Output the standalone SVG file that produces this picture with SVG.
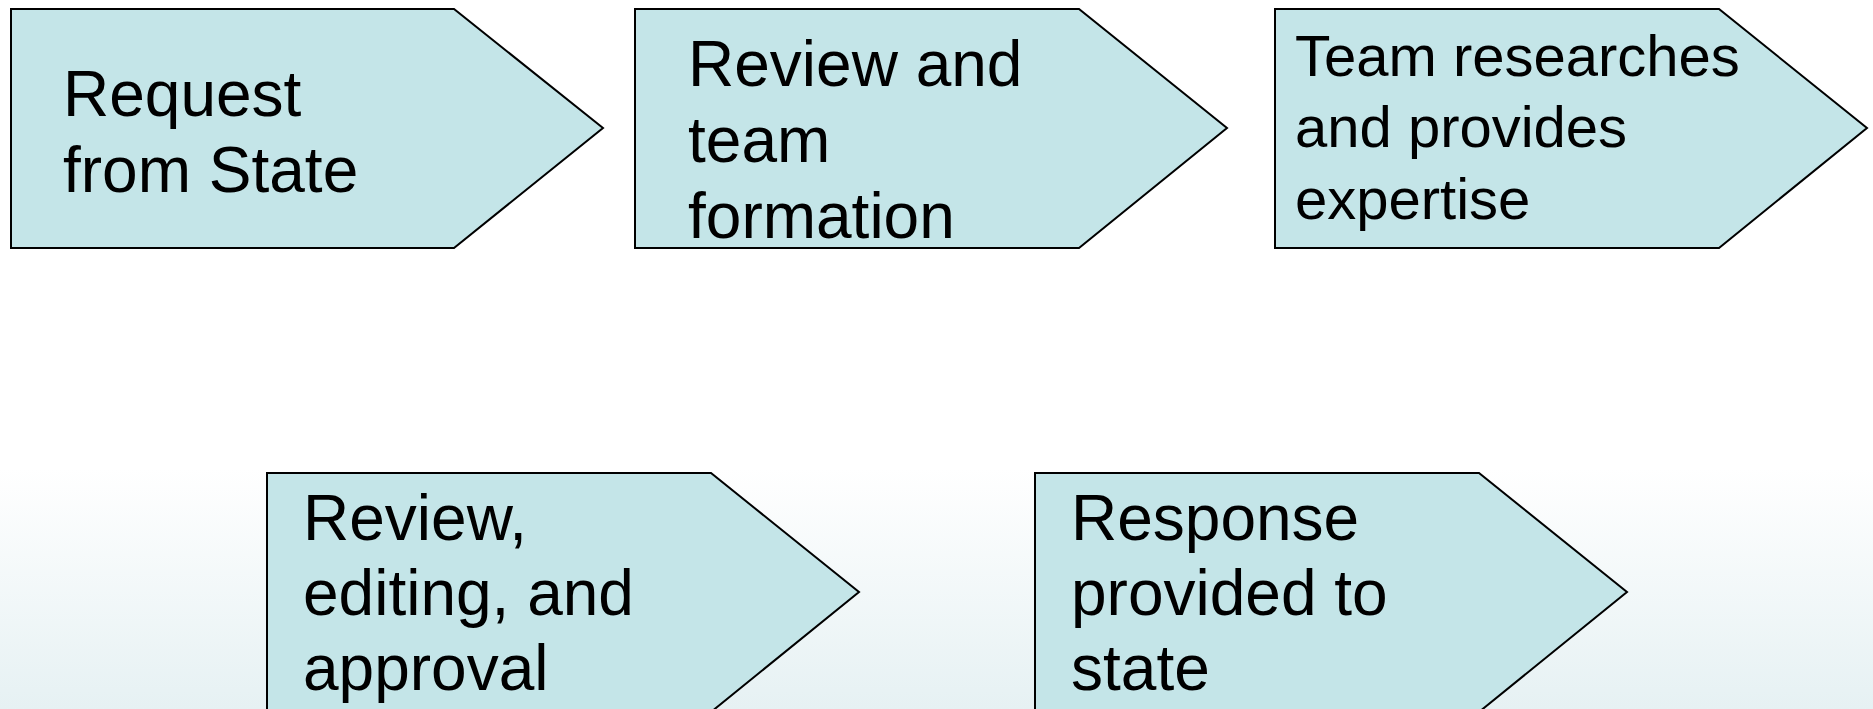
<svg xmlns="http://www.w3.org/2000/svg" width="1873" height="709" viewBox="0 0 1873 709">
<defs>
<linearGradient id="bg" x1="0" y1="0" x2="0" y2="1">
<stop offset="0" stop-color="#ffffff"/>
<stop offset="0.66" stop-color="#ffffff"/>
<stop offset="1" stop-color="#e6f1f3"/>
</linearGradient>
<style>
.sh{fill:#c4e5e8;stroke:#000;stroke-width:2}
.t{font-family:"Liberation Sans",Arial,sans-serif;font-size:64px;fill:#000}
.t2{font-family:"Liberation Sans",Arial,sans-serif;font-size:58px;fill:#000}
</style>
</defs>
<rect x="0" y="0" width="1873" height="709" fill="url(#bg)"/>
<g id="connectors"></g>
<g id="n1">
<polygon class="sh" points="11,9 454,9 603,128 454,248 11,248"/>
<text class="t" x="63" y="116">Request</text>
<text class="t" x="63" y="192">from State</text>
</g>
<g id="n2">
<polygon class="sh" points="635,9 1079,9 1227,128 1079,248 635,248"/>
<text class="t" x="688" y="86">Review and</text>
<text class="t" x="688" y="162">team</text>
<text class="t" x="688" y="238">formation</text>
</g>
<g id="n3">
<polygon class="sh" points="1275,9 1719,9 1867,128 1719,248 1275,248"/>
<text class="t2" x="1295" y="76">Team researches</text>
<text class="t2" x="1295" y="147">and provides</text>
<text class="t2" x="1295" y="219">expertise</text>
</g>
<g id="n4">
<polygon class="sh" points="267,473 711,473 859,592 711,712 267,712"/>
<text class="t" x="303" y="540">Review,</text>
<text class="t" x="303" y="615">editing, and</text>
<text class="t" x="303" y="690">approval</text>
</g>
<g id="n5">
<polygon class="sh" points="1035,473 1479,473 1627,592 1479,712 1035,712"/>
<text class="t" x="1071" y="540">Response</text>
<text class="t" x="1071" y="615">provided to</text>
<text class="t" x="1071" y="690">state</text>
</g>
</svg>
